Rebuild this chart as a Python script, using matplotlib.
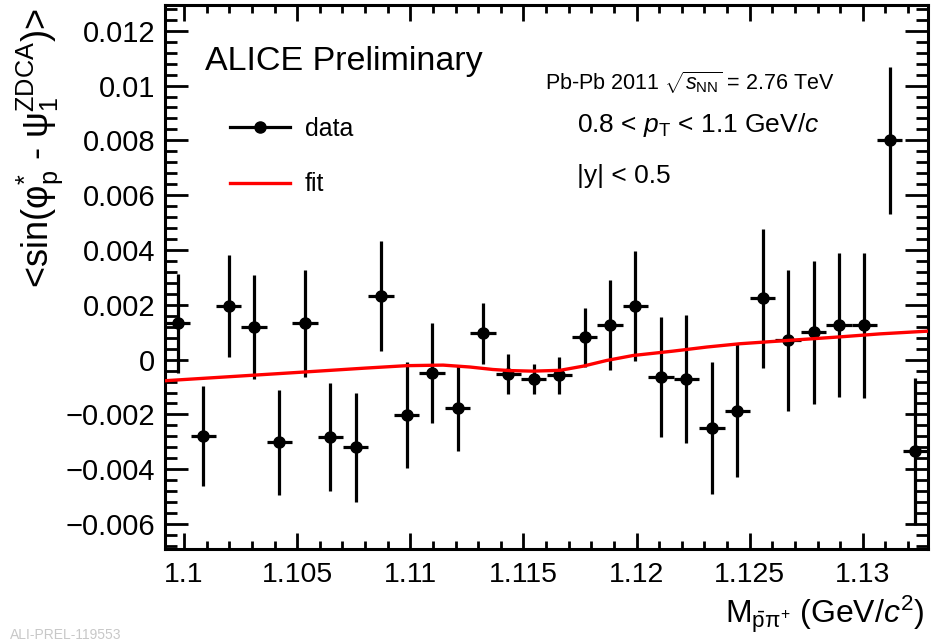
import numpy as np
import matplotlib
matplotlib.use('Agg')
import matplotlib.pyplot as plt
from matplotlib.lines import Line2D
from matplotlib.ticker import FixedLocator, MultipleLocator

plt.rcParams['font.family'] = ['Liberation Sans', 'DejaVu Sans']
plt.rcParams['mathtext.fontset'] = 'custom'
plt.rcParams['mathtext.rm'] = 'Liberation Sans'
plt.rcParams['mathtext.it'] = 'Liberation Sans:italic'
plt.rcParams['mathtext.bf'] = 'Liberation Sans:bold'

# bin centres of the invariant mass histogram (GeV/c^2)
mass = [1.09972, 1.10085, 1.10197, 1.10309, 1.10422, 1.10534, 1.10647, 1.10759,
        1.10871, 1.10984, 1.11096, 1.11209, 1.11321, 1.11433, 1.11546, 1.11658,
        1.11771, 1.11883, 1.11995, 1.12108, 1.12220, 1.12333, 1.12445, 1.12557,
        1.12670, 1.12782, 1.12895, 1.13007, 1.13119, 1.13232]
bin_half = 0.00056

# <sin(phi - psi)> values and errors, in units of 1e-3
sin_vals = [1.32, -2.79, 1.96, 1.20, -3.02, 1.32, -2.83, -3.20, 2.32, -2.03,
            -0.50, -1.78, 0.96, -0.53, -0.71, -0.57, 0.81, 1.25, 1.96, -0.65,
            -0.71, -2.49, -1.86, 2.24, 0.70, 0.99, 1.25, 1.25, 8.01, -3.34]
sin_errs = [1.80, 1.81, 1.85, 1.89, 1.92, 1.94, 1.97, 1.99, 2.00, 1.94,
            1.82, 1.54, 1.11, 0.74, 0.56, 0.68, 1.09, 1.64, 2.00, 2.19,
            2.33, 2.42, 2.43, 2.54, 2.58, 2.60, 2.63, 2.65, 2.68, 2.68]

# fit curve (units of 1e-3)
fit_mass = [1.09916, 1.10535, 1.10800, 1.10984, 1.11145, 1.11264, 1.11365, 1.11440,
            1.11542, 1.11662, 1.11763, 1.11868, 1.11984, 1.12161, 1.12311, 1.12457,
            1.12722, 1.12899, 1.13076, 1.13288]
fit_vals = [-0.77, -0.45, -0.31, -0.22, -0.20, -0.27, -0.36, -0.40,
            -0.42, -0.39, -0.24, -0.03, 0.15, 0.31, 0.46, 0.58,
            0.73, 0.83, 0.94, 1.04]

xtick_vals = [1.1, 1.105, 1.11, 1.115, 1.12, 1.125, 1.13]
xtick_labels = ['1.1', '1.105', '1.11', '1.115', '1.12', '1.125', '1.13']
ytick_vals = [-0.006, -0.004, -0.002, 0, 0.002, 0.004, 0.006, 0.008, 0.01, 0.012]
ytick_labels = ['\u22120.006', '\u22120.004', '\u22120.002', '0', '0.002', '0.004',
                '0.006', '0.008', '0.01', '0.012']

y = np.array(sin_vals) * 1e-3
yerr = np.array(sin_errs) * 1e-3
fit_y = np.array(fit_vals) * 1e-3

fig = plt.figure(figsize=(9.41, 6.41), dpi=100)
ax = fig.add_axes([165/941, 1 - 549/641, 763/941, 544/641])

ax.errorbar(mass, y, xerr=bin_half, yerr=yerr, fmt='o', color='black',
            ms=8, elinewidth=2.3, capsize=0, label='data', zorder=3)
ax.plot(fit_mass, fit_y, color='#ff0000', lw=2.4, label='fit', zorder=4)

ax.set_xlim(1.09916, 1.13288)
ax.set_ylim(-0.00691, 0.01294)

ax.xaxis.set_major_locator(FixedLocator(xtick_vals))
ax.set_xticklabels(xtick_labels)
ax.xaxis.set_minor_locator(MultipleLocator(0.001))
ax.yaxis.set_major_locator(FixedLocator(ytick_vals))
ax.set_yticklabels(ytick_labels)
ax.yaxis.set_minor_locator(MultipleLocator(0.0004))

ax.tick_params(which='both', direction='in', top=True, right=True, width=2)
ax.tick_params(axis='x', which='major', length=11.5, labelsize=20.5, pad=9)
ax.tick_params(axis='x', which='minor', length=5.8)
ax.tick_params(axis='y', which='major', length=16.5, labelsize=21, pad=7)
ax.tick_params(axis='y', which='minor', length=8.6)
for s in ax.spines.values():
    s.set_linewidth(2.2)

handles = [Line2D([], [], color='black', marker='o', ms=8, lw=2.3),
           Line2D([], [], color='#ff0000', lw=2.4)]
ax.legend(handles, ['data', 'fit'], loc='upper left',
          bbox_to_anchor=((230 - 165)/763, (549 - 117)/544), frameon=False,
          fontsize=18, handlelength=2.4, handletextpad=0.6, labelspacing=1.25,
          borderpad=0, borderaxespad=0)

fig.text(205/941, 1 - 70/641, 'ALICE Preliminary', fontsize=24.5, ha='left', va='baseline')
fig.text(545/941, 1 - 90/641, r'Pb-Pb 2011 $\sqrt{s_{\rm NN}}$ = 2.76 TeV',
         fontsize=15.5, ha='left', va='baseline')
fig.text(577/941, 1 - 132/641, r'0.8 < $p_{\rm T}$ < 1.1 GeV/$c$',
         fontsize=19, ha='left', va='baseline')
fig.text(577/941, 1 - 183/641, '|y| < 0.5', fontsize=19, ha='left', va='baseline')

fig.text(40/941, 1 - 8/641,
         r'<sin($\mathregular{φ_{p}^{*}}$ - $\mathregular{ψ_{1}^{ZDCA}}$)>',
         fontsize=26, rotation=90, ha='center', va='top')
fig.text(925/941, 1 - 623/641,
         r'M$_{\bar{\rm p}\mathregular{π}^{+}}$ (GeV/$c^{2}$)',
         fontsize=23, ha='right', va='baseline')

fig.text(10/941, 1 - 639/641, 'ALI-PREL-119553', fontsize=10, color='#c8c8c8',
         ha='left', va='baseline')

fig.savefig('out.png', dpi=100, facecolor='white')
